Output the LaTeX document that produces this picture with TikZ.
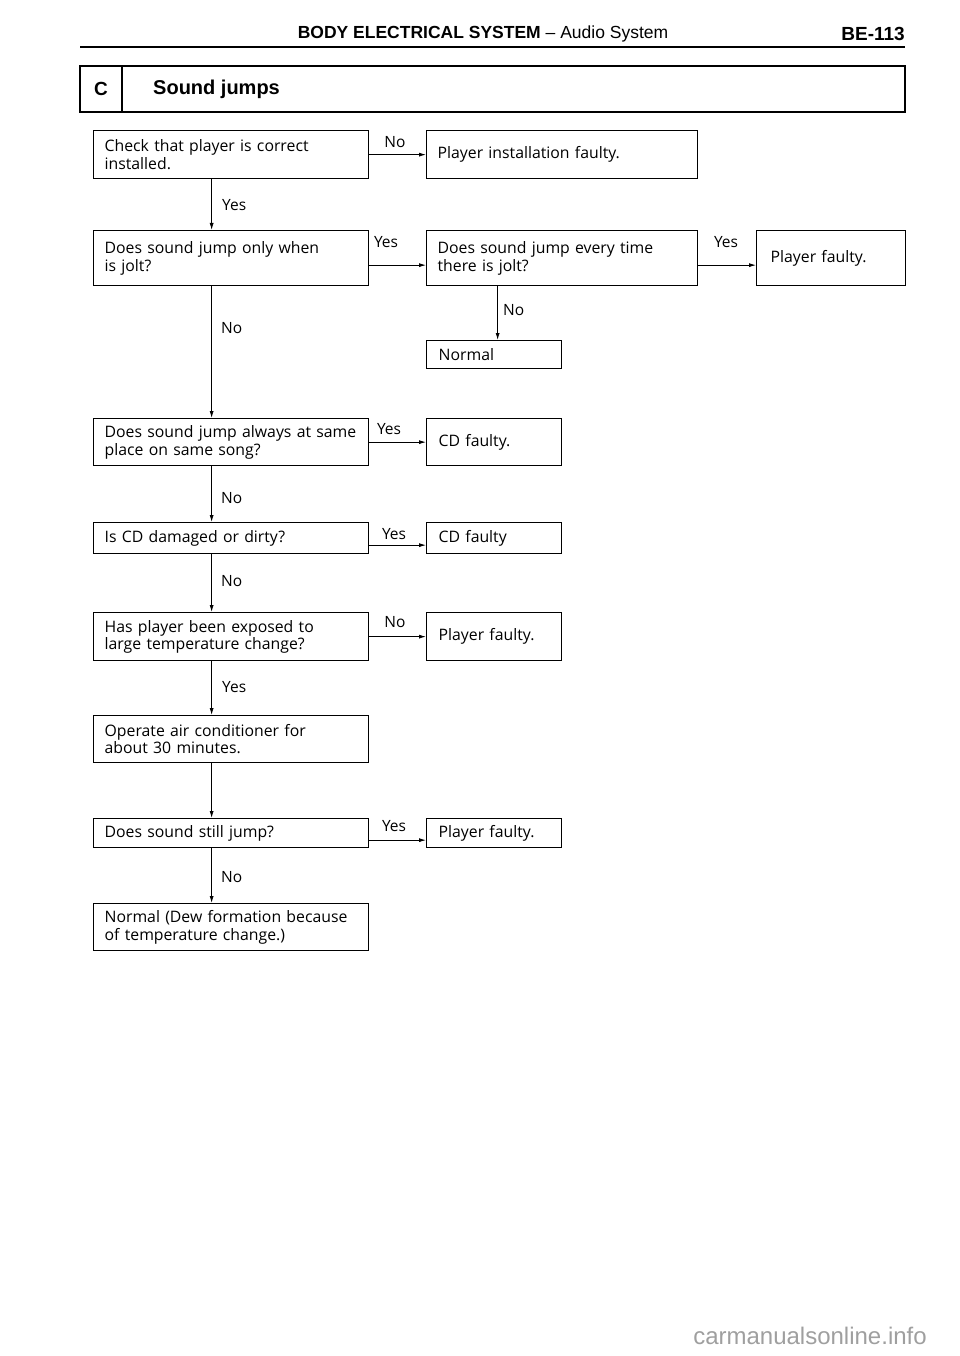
\documentclass[tikz,border=0pt]{standalone}
\usepackage{fontspec}
\setmainfont{Open Sans}
\newfontfamily\hdfont{Liberation Sans}
\usetikzlibrary{arrows.meta,calc}
\newcommand{\bxline}[1]{\mbox{#1}}
\begin{document}
\begin{tikzpicture}[x=1pt,y=-1pt,
  box/.style={draw, line width=1.3pt, inner xsep=11pt, inner ysep=0pt, align=left, anchor=north west,
    font=\fontsize{15.8}{17.5}\selectfont},
  lbox/.style={box, text width=253pt},
  rbox/.style={box, text width=249pt},
  sbox/.style={box, text width=111pt, inner xsep=12pt},
  lab/.style={font=\fontsize{15.5}{16}\selectfont, inner sep=0pt},
  arr/.style={-{Latex[length=7pt,width=4pt]}, line width=0.8pt}]
\useasboundingbox (0,0) rectangle (960,1356);

% header
\node[font=\hdfont\fontsize{17.5}{19}\selectfont, inner sep=0pt] (hd) at (483,34) {\textbf{BODY ELECTRICAL SYSTEM} \textendash{} Audio System};
\node[font=\hdfont\bfseries\fontsize{19}{20}\selectfont, inner sep=0pt, anchor=east] (pg) at (905,34) {BE-113};
\draw[line width=2.5pt] (80,47) -- (905,47);

% title box
\draw[line width=1.8pt] (80,66) rectangle (905,112);
\draw[line width=1.5pt] (122,66) -- (122,112);
\node[font=\hdfont\bfseries\fontsize{19}{21}\selectfont, inner sep=0pt] (tc) at (101,89) {C};
\node[font=\hdfont\bfseries\fontsize{20}{22}\selectfont, inner sep=0pt, anchor=west] (tt) at (153,89) {Sound jumps};

% boxes
\node[lbox, minimum height=48pt] (b1) at (93,130) {\bxline{Check that player is correct}\\\bxline{installed.}};
\node[rbox, minimum height=48pt] (p1) at (426,130) {\bxline{Player installation faulty.}};
\node[lbox, minimum height=55pt] (b2) at (93,230) {\bxline{Does sound jump only when}\\\bxline{is jolt?}};
\node[rbox, minimum height=55pt] (b3) at (426,230) {\bxline{Does sound jump every time}\\\bxline{there is jolt?}};
\node[box, text width=121pt, inner xsep=14pt, minimum height=55pt] (p2) at (756,230) {\bxline{Player faulty.}};
\node[sbox, minimum height=28pt] (n1) at (426,340) {\bxline{Normal}};
\node[lbox, minimum height=47pt] (b4) at (93,418) {\bxline{Does sound jump always at same}\\\bxline{place on same song?}};
\node[sbox, minimum height=47pt] (c1) at (426,418) {\bxline{CD faulty.}};
\node[lbox, minimum height=31pt] (b5) at (93,522) {\bxline{Is CD damaged or dirty?}};
\node[sbox, minimum height=31pt] (c2) at (426,522) {\bxline{CD faulty}};
\node[lbox, minimum height=48pt] (b6) at (93,612) {\bxline{Has player been exposed to}\\\bxline{large temperature change?}};
\node[sbox, minimum height=48pt] (p3) at (426,612) {\bxline{Player faulty.}};
\node[lbox, minimum height=47pt] (b7) at (93,715) {\bxline{Operate air conditioner for}\\\bxline{about 30 minutes.}};
\node[lbox, minimum height=29pt] (b8) at (93,818) {\bxline{Does sound still jump?}};
\node[sbox, minimum height=29pt] (p4) at (426,818) {\bxline{Player faulty.}};
\node[lbox, minimum height=47pt] (b9) at (93,903) {\bxline{Normal (Dew formation because}\\\bxline{of temperature change.)}};

% horizontal arrows
\draw[arr] (b1.east) -- (p1.west);
\node[lab] (l1) at (395,142) {No};
\draw[arr] ([yshift=-7pt]b2.east) -- ([yshift=-7pt]b3.west);
\node[lab] (l2) at (386,242) {Yes};
\draw[arr] ([yshift=-7pt]b3.east) -- ([yshift=-7pt]p2.west);
\node[lab] (l3) at (726,242) {Yes};
\draw[arr] (b4.east) -- (c1.west);
\node[lab] (l4) at (389,429) {Yes};
\draw[arr] ([yshift=-7pt]b5.east) -- ([yshift=-7pt]c2.west);
\node[lab] (l5) at (394,534) {Yes};
\draw[arr] (b6.east) -- (p3.west);
\node[lab] (l6) at (395,622) {No};
\draw[arr] ([yshift=-7pt]b8.east) -- ([yshift=-7pt]p4.west);
\node[lab] (l7) at (394,826) {Yes};

% vertical arrows
\draw[arr] ([xshift=-19.5pt]b1.south) -- ([xshift=-19.5pt]b2.north);
\node[lab, anchor=west] (v1) at (222,205) {Yes};
\draw[arr] ([xshift=-64.5pt]b3.south) -- ([xshift=-64.5pt]b3.south |- n1.north);
\node[lab, anchor=west] (v2) at (503,310) {No};
\draw[arr] ([xshift=-19.5pt]b2.south) -- ([xshift=-19.5pt]b4.north);
\node[lab, anchor=west] (v3) at (221,328) {No};
\draw[arr] ([xshift=-19.5pt]b4.south) -- ([xshift=-19.5pt]b5.north);
\node[lab, anchor=west] (v4) at (221,498) {No};
\draw[arr] ([xshift=-19.5pt]b5.south) -- ([xshift=-19.5pt]b6.north);
\node[lab, anchor=west] (v5) at (221,581) {No};
\draw[arr] ([xshift=-19.5pt]b6.south) -- ([xshift=-19.5pt]b7.north);
\node[lab, anchor=west] (v6) at (222,687) {Yes};
\draw[arr] ([xshift=-19.5pt]b7.south) -- ([xshift=-19.5pt]b8.north);
\draw[arr] ([xshift=-19.5pt]b8.south) -- ([xshift=-19.5pt]b9.north);
\node[lab, anchor=west] (v7) at (221,877) {No};

% watermark
\node[font=\hdfont\fontsize{24}{26}\selectfont, text=gray!75, inner sep=0pt] (wm) at (810,1336) {carmanualsonline.info};
\end{tikzpicture}
\end{document}
